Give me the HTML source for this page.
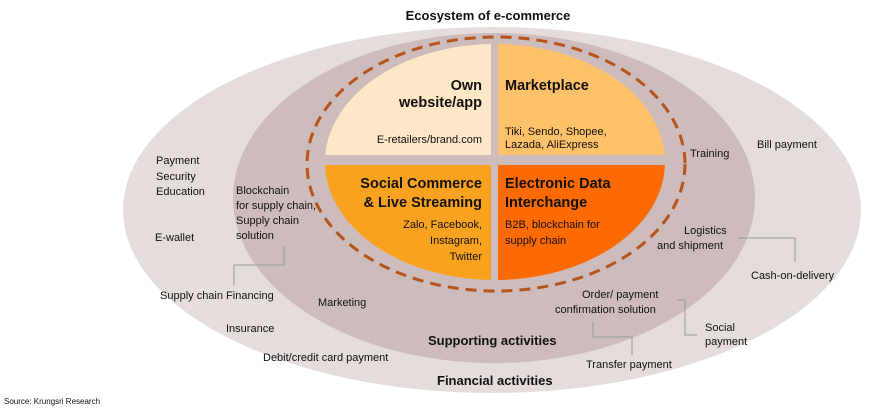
<!DOCTYPE html>
<html><head><meta charset="utf-8"><style>
body{margin:0;background:#fff}
svg{display:block}
text{font-family:"Liberation Sans",sans-serif;fill:#111}
.s{font-size:11px}
.b{font-size:14.5px;font-weight:bold}
.h{font-size:13px;font-weight:bold}
</style></head><body>
<svg width="870" height="411" viewBox="0 0 870 411">
<defs>
<clipPath id="tl"><rect x="300" y="30" width="191" height="125"/></clipPath>
<clipPath id="tr"><rect x="498" y="30" width="200" height="125"/></clipPath>
<clipPath id="bl"><rect x="300" y="165" width="191" height="130"/></clipPath>
<clipPath id="br"><rect x="498" y="165" width="200" height="130"/></clipPath>
</defs>
<text x="488" y="20" class="h" text-anchor="middle">Ecosystem of e-commerce</text>
<ellipse cx="492" cy="210" rx="369" ry="183" fill="#e4dddc"/>
<ellipse cx="494" cy="198" rx="261" ry="165" fill="#cdbcbb"/>
<ellipse cx="496" cy="164" rx="189" ry="127" fill="none" stroke="#b5541c" stroke-width="3" stroke-dasharray="11,7"/>
<ellipse cx="495" cy="162" rx="170" ry="118" fill="#fde7c6" clip-path="url(#tl)"/>
<ellipse cx="495" cy="162" rx="170" ry="118" fill="#fdc169" clip-path="url(#tr)"/>
<ellipse cx="495" cy="162" rx="170" ry="118" fill="#f9a21f" clip-path="url(#bl)"/>
<ellipse cx="495" cy="162" rx="170" ry="118" fill="#fd6a02" clip-path="url(#br)"/>
<g class="b" text-anchor="end">
<text x="482" y="90">Own</text><text x="482" y="107">website/app</text>
<text x="482" y="188">Social Commerce</text><text x="482" y="207">&amp; Live Streaming</text>
</g>
<g class="b">
<text x="505" y="90">Marketplace</text>
<text x="505" y="188">Electronic Data</text><text x="505" y="207">Interchange</text>
</g>
<g class="s" text-anchor="end">
<text x="482" y="143">E-retailers/brand.com</text>
<text x="482" y="228">Zalo, Facebook,</text><text x="482" y="244">Instagram,</text><text x="482" y="260">Twitter</text>
</g>
<g class="s">
<text x="505" y="135">Tiki, Sendo, Shopee,</text><text x="505" y="148">Lazada, AliExpress</text>
<text x="505" y="228">B2B, blockchain for</text><text x="505" y="244">supply chain</text>
<text x="156" y="164">Payment</text><text x="156" y="180">Security</text><text x="156" y="195">Education</text>
<text x="155" y="241">E-wallet</text>
<text x="236" y="194">Blockchain</text><text x="236" y="209">for supply chain,</text><text x="236" y="224">Supply chain</text><text x="236" y="239">solution</text>
<text x="160" y="299">Supply chain Financing</text>
<text x="318" y="306">Marketing</text>
<text x="226" y="332">Insurance</text>
<text x="263" y="361">Debit/credit card payment</text>
<text x="690" y="157">Training</text>
<text x="757" y="148">Bill payment</text>
<text x="684" y="234">Logistics</text><text x="657" y="249">and shipment</text>
<text x="751" y="279">Cash-on-delivery</text>
<text x="582" y="298">Order/ payment</text><text x="555" y="313">confirmation solution</text>
<text x="705" y="331">Social</text><text x="705" y="345">payment</text>
<text x="586" y="368">Transfer payment</text>
</g>
<text x="428" y="345" class="h">Supporting activities</text>
<text x="437" y="385" class="h">Financial activities</text>
<text x="4" y="404" style="font-size:8px">Source: Krungsri Research</text>
<g fill="none" stroke="#999" stroke-width="1">
<polyline points="284,246 284,265 234,265 234,285"/>
<polyline points="738,238 795,238 795,262"/>
<polyline points="677,300 685,300 685,335 697,335"/>
<polyline points="593,322 593,337 632,337 632,355"/>
</g>
</svg>
</body></html>
